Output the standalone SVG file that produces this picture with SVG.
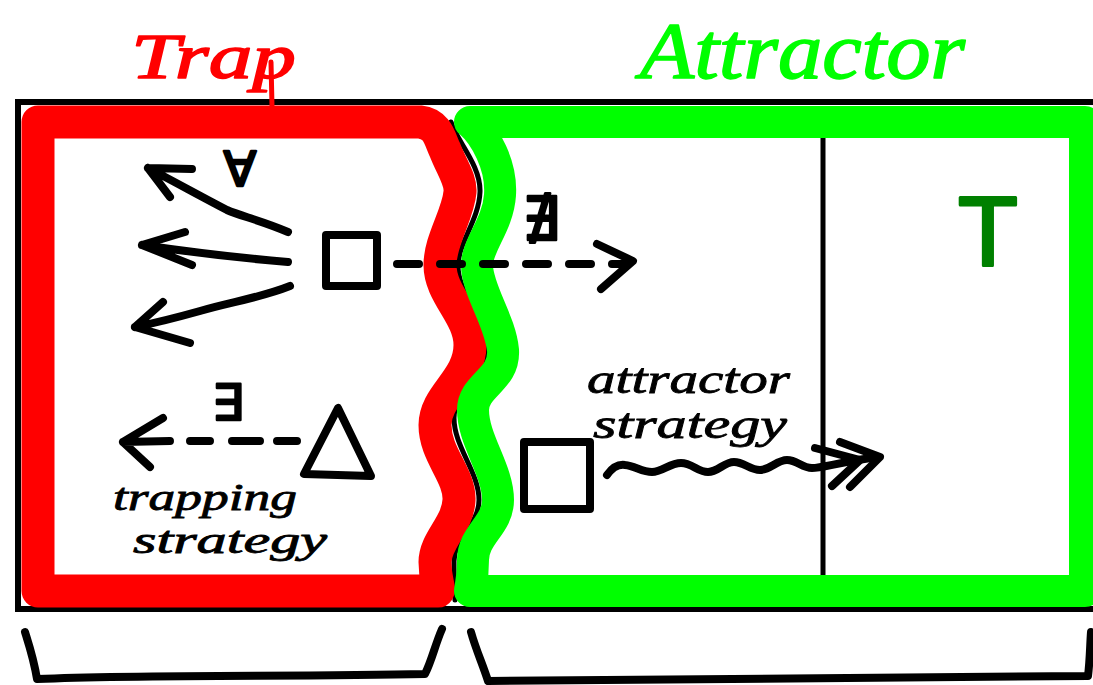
<svg xmlns="http://www.w3.org/2000/svg" width="1093" height="685" viewBox="0 0 1093 685">
<style>
.ink{fill:none;stroke:#000;stroke-width:8;stroke-linecap:round;stroke-linejoin:round}
.thin{fill:none;stroke:#000;stroke-width:5;stroke-linecap:round;stroke-linejoin:round}
.hand{font-family:"Liberation Serif",serif;font-style:italic;fill:#000;stroke:#000;stroke-width:0.8}
.title{font-family:"Liberation Serif",serif;font-style:italic;stroke-width:1.5;stroke-linejoin:round}
.sym{font-family:"DejaVu Sans",sans-serif;fill:#000;stroke:#000;stroke-width:2.5;stroke-linejoin:round}
</style>
<rect width="1093" height="685" fill="#fff"/>
<g id="frame">
<rect x="18" y="102" width="1090" height="507" fill="none" stroke="#000" stroke-width="6"/>
<path class="thin" d="M451 122 C456 140 481 165 480 192 C479 220 458 243 458 266 C458 293 485 318 487 347 C489 380 454 390 454 418 C454 447 479 472 479 500 C479 525 454 538 454 561 C454 580 455 590 455 600"/>
<path class="thin" d="M823 125 L823 592"/>
</g>
<g id="trap">
<path d="M38 122 L420 122 C438 124 440 140 445 150 C452 168 461 180 460 192 C458 215 440 240 440 265 C440 295 470 315 470 345 C470 380 435 395 435 425 C435 455 460 475 459 500 C458 525 435 540 435 562 C435 580 440 588 438 591 L38 591 Z" fill="none" stroke="#ff0000" stroke-width="33" stroke-linejoin="round"/>
<text class="title" x="131" y="78" font-size="64" textLength="165" lengthAdjust="spacingAndGlyphs" fill="#ff0000" stroke="#ff0000">Trap</text>
<path d="M271 62 L272 106" stroke="#ff0000" stroke-width="5" stroke-linecap="round"/>
</g>
<g id="attractor">
<path d="M1085 122 L470 122 C485 135 502 165 500 195 C498 225 477 245 477 265 C477 290 500 320 503 350 C505 380 473 385 473 410 C473 440 498 470 498 500 C498 525 473 535 473 560 C473 580 470 588 470 591 L1085 591 Z" fill="none" stroke="#00ff00" stroke-width="32" stroke-linejoin="round"/>
<text class="title" x="640" y="78" font-size="80" textLength="325" lengthAdjust="spacingAndGlyphs" fill="#00ff00" stroke="#00ff00">Attractor</text>
</g>
<g id="top">
<text x="988" y="265" font-family="Liberation Sans, sans-serif" font-size="98" fill="#008000" stroke="#008000" stroke-width="3" stroke-linejoin="round" text-anchor="middle">T</text>
</g>
<g id="square-forall">
<rect class="ink" x="326" y="235" width="51" height="51" stroke-width="7"/>
<text class="sym" x="240" y="186" font-size="48" text-anchor="middle">∀</text>
</g>
<g id="triangle-exists">
<path class="ink" d="M338 408 L304 474 L371 476 Z" stroke-width="9"/>
<text class="sym" x="228" y="420" font-size="50" text-anchor="middle">∃</text>
</g>
<g id="trapping-label">
<text class="hand" x="113" y="510" font-size="37" textLength="184" lengthAdjust="spacingAndGlyphs">trapping</text>
<text class="hand" x="133" y="553" font-size="37" textLength="194" lengthAdjust="spacingAndGlyphs">strategy</text>
</g>
<g id="square-attractor">
<rect class="ink" x="524" y="442" width="66" height="67" stroke-width="7"/>
</g>
<g id="attractor-label">
<text class="hand" x="587" y="393" font-size="42" textLength="203" lengthAdjust="spacingAndGlyphs">attractor</text>
<text class="hand" x="593" y="438" font-size="42" textLength="194" lengthAdjust="spacingAndGlyphs">strategy</text>
</g>
<g id="not-exists">
<text class="sym" x="541" y="240" font-size="60" text-anchor="middle">∄</text>
</g>
<g id="connectors">
<path class="ink" d="M288 232 C260 220 240 216 227 210 C200 196 175 182 148 168 M148 168 L192 169 M148 168 L170 197"/>
<path class="ink" d="M288 262 C240 258 190 252 142 245 M142 245 L185 232 M142 245 L192 265"/>
<path class="ink" d="M290 286 C260 298 230 302 200 311 C175 318 155 323 135 327 M135 327 L163 302 M135 327 L190 343"/>
<path class="ink" d="M397 264 L625 264" stroke-dasharray="22 21"/>
<path class="ink" d="M597 244 L633 261 L601 289"/>
<path class="ink" d="M297 441 L277 441 M260 441 L232 441 M210 441 L190 441 M170 441 L123 442 M163 418 L123 442 L150 467"/>
<path class="ink" d="M607 475 C612 468 618 464 625 465 C635 466 642 472 652 472 C662 472 670 463 681 463 C692 463 698 472 708 472 C718 472 724 462 734 462 C744 462 750 470 760 470 C770 470 777 460 787 460 C797 460 802 468 812 468 C822 468 840 462 878 457"/>
<path class="ink" d="M840 442 L880 457 L850 487 M815 448 L860 460 L832 486"/>
</g>
<g id="braces">
<path class="ink" d="M25 632 C30 648 34 660 37 679 C150 674 300 677 425 674 C432 660 435 645 442 629"/>
<path class="ink" d="M471 632 C476 650 483 665 488 681 C700 679 900 678 1088 676 C1090 660 1090 645 1091 632"/>
</g>
</svg>
